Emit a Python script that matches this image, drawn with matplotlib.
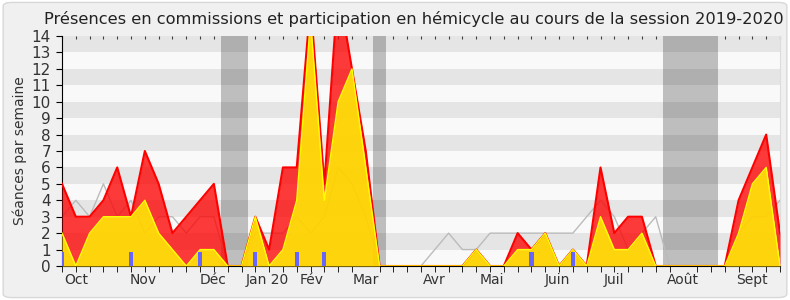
import matplotlib
matplotlib.use('Agg')
import matplotlib.pyplot as plt
from matplotlib.patches import FancyBboxPatch
import numpy as np

# weekly values, session 2019-2020 (one point per week)
commission = [5, 3, 3, 4, 6, 3, 7, 5, 2, 3, 4, 5, 0,
              0, 3, 1, 6, 6, 16, 5, 17, 12, 7, 0,
              0, 0, 0, 0, 0, 0,
              1, 0, 0, 2, 1, 2, 0, 1, 0,
              6, 2, 3, 3, 0,
              0, 0, 0, 0, 0,
              4, 6, 8, 2]
hemicycle = [2, 0, 2, 3, 3, 3, 4, 2, 1, 0, 1, 1, 0,
             0, 3, 0, 1, 4, 15, 4, 10, 12, 6, 0,
             0, 0, 0, 0, 0, 0,
             1, 0, 0, 1, 1, 2, 0, 1, 0,
             3, 1, 1, 2, 0,
             0, 0, 0, 0, 0,
             2, 5, 6, 0]
mediane = [3, 4, 3, 5, 3, 4, 2, 3, 3, 2, 3, 3, 0,
           0, 2, 2, 2, 3, 2, 3, 6, 5, 3, 0,
           0, 0, 0, 1, 2, 1,
           1, 2, 2, 2, 2, 2, 2, 2, 3,
           4, 3, 1, 2, 3,
           0, 0, 0, 0, 0,
           2, 3, 3, 4]
questions = [0, 5, 10, 14, 17, 19, 34, 37]
vacances = [(11.5, 13.5), (22.5, 23.5), (43.5, 47.5)]
mois = ['Oct', 'Nov', 'Déc', 'Jan 20', 'Fév', 'Mar', 'Avr', 'Mai', 'Juin', 'Juil', 'Août', 'Sept']
mois_pos = [1.06, 5.91, 10.93, 14.85, 18.08, 22.0, 26.96, 31.1, 35.87, 39.97, 45.0, 49.99]

semaines = np.arange(len(commission))

fig = plt.figure(figsize=(7.9, 3.0), dpi=100)
fig.patch.set_facecolor('white')
fig.patches.append(FancyBboxPatch((0.004, 0.008), 0.992, 0.984,
                                  boxstyle='round,pad=0,rounding_size=0.012',
                                  transform=fig.transFigure, facecolor='#F0F0F0',
                                  edgecolor='#D8D8D8', lw=1, zorder=-10))

ax = fig.add_axes([62 / 790, 34 / 300, 718 / 790, 230 / 300])
ax.set_facecolor('#F9F9F9')

for a, b in vacances:
    ax.axvspan(a, b, color='#BEBEBE', lw=0, zorder=0.5)
for v in range(1, 14, 2):
    ax.axhspan(v, v + 1, color='black', alpha=0.08, lw=0, zorder=1)

ax.plot(semaines, mediane, color='#BBBBBB', lw=1, zorder=2)
ax.fill_between(semaines, hemicycle, commission, color='#FF0000', alpha=0.77, lw=0, zorder=3)
ax.plot(semaines, commission, color='#FF0000', lw=1.5, zorder=4)
ax.fill_between(semaines, 0, hemicycle, color='#FFD200', alpha=0.95, lw=0, zorder=4)
ax.plot(semaines, hemicycle, color='#FFFF00', lw=1, zorder=5)
ax.bar(questions, 0.85, width=0.3, color='#6666FF', lw=0, zorder=6)

ax.set_xlim(0, 52)
ax.set_ylim(0, 14)
ax.set_yticks(range(15))
ax.set_xticks(mois_pos, mois)
ax.set_xticks(semaines, minor=True)
ax.tick_params(axis='x', which='major', length=0, pad=5, labelsize=10, labelcolor='#333333')
ax.tick_params(axis='x', which='minor', length=4, color='black')
ax.tick_params(axis='y', length=4, labelsize=11, labelcolor='#333333', pad=4)

top = ax.secondary_xaxis('top')
top.set_xticks(semaines, labels=[])
top.tick_params(direction='in', length=2, color='#444444')
top.spines['top'].set_visible(False)

ax.spines['top'].set_visible(False)
ax.spines['right'].set_color('#DDDDDD')
ax.set_ylabel('Séances par semaine', fontsize=10, color='#333333', labelpad=3)

fig.text(0.524, 1 - 19 / 300,
         'Présences en commissions et participation en hémicycle au cours de la session 2019-2020',
         ha='center', va='center', fontsize=11.7, color='#222222')

fig.savefig('out.png', dpi=100, facecolor=fig.get_facecolor())
